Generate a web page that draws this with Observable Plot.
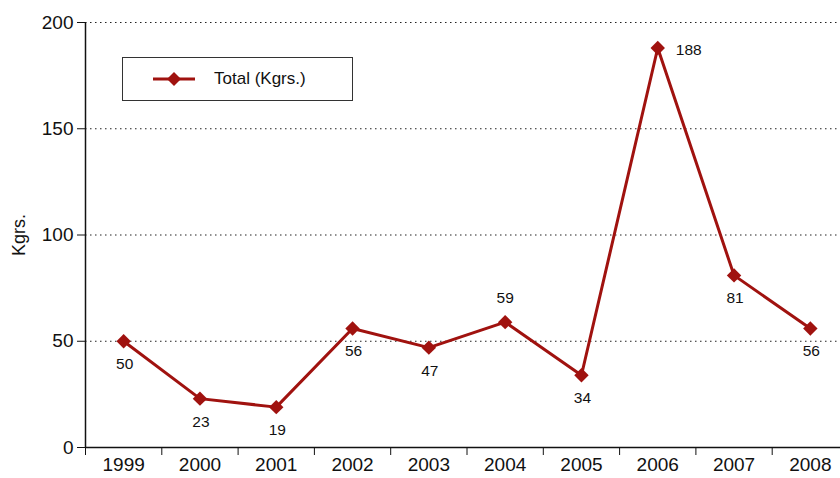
<!DOCTYPE html>
<html>
<head>
<meta charset="utf-8">
<script src="https://cdn.jsdelivr.net/npm/d3@7"></script>
<script src="https://cdn.jsdelivr.net/npm/@observablehq/plot@0.6"></script>
<style>
  html, body { margin: 0; padding: 0; background: #fff; overflow: hidden; }
  #wrap { position: relative; width: 840px; height: 478px; overflow: hidden; font-family: "Liberation Sans", Arial, Helvetica, sans-serif; }
  #chart svg { max-width: none !important; }
  #legend { position: absolute; left: 122px; top: 57px; width: 229px; height: 42px; border: 1px solid #333; background: #fff; }
  #legend svg { position: absolute; left: 0; top: 0; }
  #legend span { position: absolute; left: 91px; top: 11px; font-size: 17px; color: #111; }
</style>
</head>
<body>
<div id="wrap">
  <div id="chart"></div>
  <div id="legend">
    <svg width="90" height="42"><line x1="30" x2="72" y1="21" y2="21" stroke="#a0120f" stroke-width="3"/><path d="M51,14 L58,21 L51,28 L44,21 Z" fill="#a0120f"/></svg>
    <span>Total (Kgrs.)</span>
  </div>
</div>
<script>
const years = ["1999","2000","2001","2002","2003","2004","2005","2006","2007","2008"];
const totals = [50, 23, 19, 56, 47, 59, 34, 188, 81, 56];
const labelPos = ["below","below","below","below","below","above","below","right","below","below"];
const yTicks = [0, 50, 100, 150, 200];
const gridValues = [50, 100, 150, 200];
const yTitle = "Kgrs.";

const color = "#a0120f";
const data = years.map((y, i) => ({i, year: y, value: totals[i], pos: labelPos[i]}));
const bandEdges = d3.range(-0.5, years.length + 0.5, 1);

const chart = Plot.plot({
  width: 848,
  height: 478,
  marginLeft: 85,
  marginRight: 0,
  marginTop: 22,
  marginBottom: 31,
  style: {fontFamily: "'Liberation Sans', Arial, Helvetica, sans-serif", background: "#fff", color: "#111", maxWidth: "none"},
  x: {type: "linear", domain: [-0.5, years.length - 0.5]},
  y: {domain: [0, 200]},
  marks: [
    Plot.ruleY(gridValues, {stroke: "#222", strokeDasharray: "1.5,3.5", strokeWidth: 1.2}),
    Plot.axisY({ticks: yTicks, tickSize: 8, tickPadding: 4, fontSize: 19, label: null}),
    Plot.text([yTitle], {text: d => d, frameAnchor: "left", textAnchor: "middle", rotate: -90, dx: -66, fontSize: 18, fill: "#111"}),
    Plot.axisX({ticks: bandEdges, tickSize: 8, tickFormat: () => "", label: null}),
    Plot.axisX({ticks: d3.range(years.length), tickSize: 0, tickPadding: 10, fontSize: 19, tickFormat: i => years[i], label: null}),
    Plot.ruleY([0], {stroke: "#111", strokeWidth: 1.5}),
    Plot.ruleX([-0.5], {stroke: "#111", strokeWidth: 1.5}),
    Plot.line(data, {x: "i", y: "value", stroke: color, strokeWidth: 3}),
    Plot.dot(data, {x: "i", y: "value", symbol: "diamond2", r: 6.5, fill: color, stroke: "none"}),
    Plot.text(data.filter(d => d.pos === "below"), {x: "i", y: "value", text: d => String(d.value), dy: 23, dx: 1, fontSize: 15.5, fill: "#111"}),
    Plot.text(data.filter(d => d.pos === "above"), {x: "i", y: "value", text: d => String(d.value), dy: -24, fontSize: 15.5, fill: "#111"}),
    Plot.text(data.filter(d => d.pos === "right"), {x: "i", y: "value", text: d => String(d.value), dx: 31, dy: 2, fontSize: 15.5, fill: "#111"})
  ]
});
document.getElementById("chart").appendChild(chart);
</script>
</body>
</html>
